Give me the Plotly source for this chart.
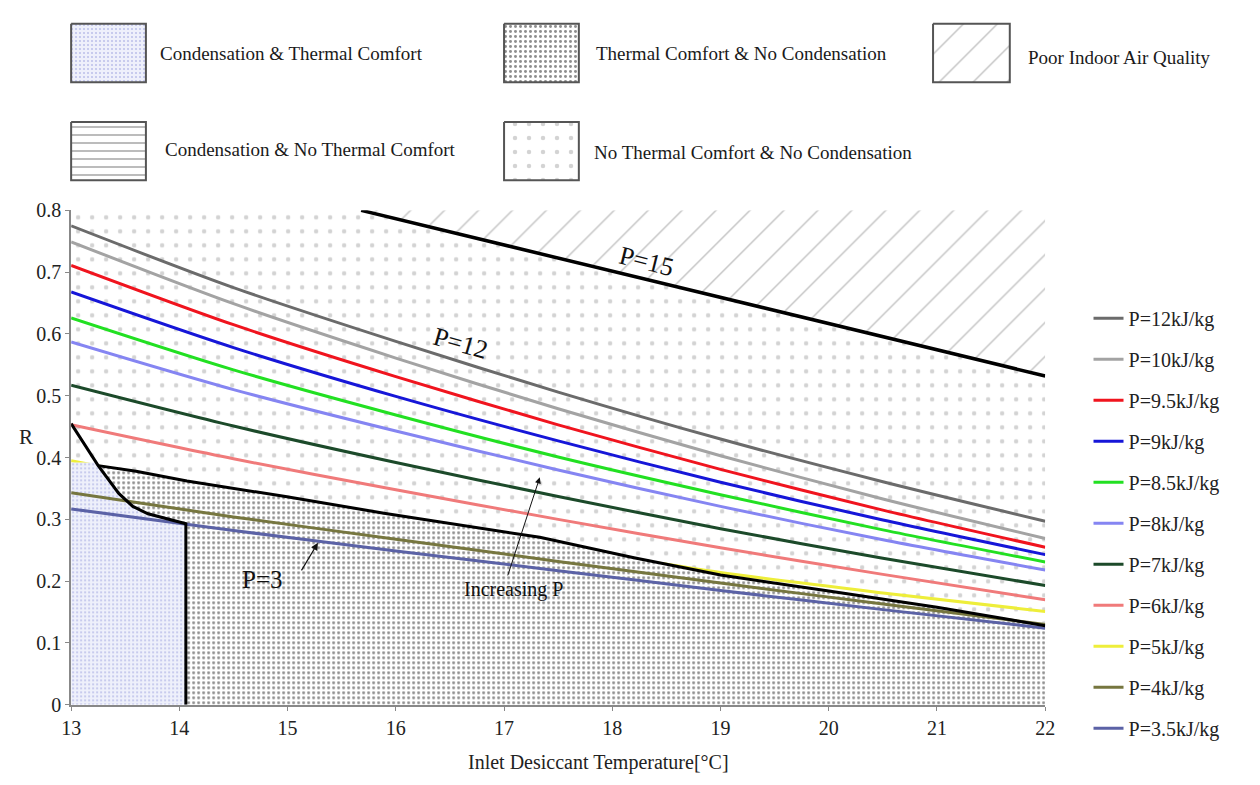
import numpy as np
import plotly.graph_objects as go

W, H = 1260, 785          # reference picture size
OFF = 8                    # default page body margin
FW, FH = W - 2 * OFF, H - 2 * OFF
FONT = "Liberation Serif"

# ---------------- data ----------------
temp = [13.0, 14.5, 16.0, 17.5, 19.0, 20.5, 22.0]

series_names = ["P=12kJ/kg", "P=10kJ/kg", "P=9.5kJ/kg", "P=9kJ/kg", "P=8.5kJ/kg",
                "P=8kJ/kg", "P=7kJ/kg", "P=6kJ/kg", "P=5kJ/kg", "P=4kJ/kg", "P=3.5kJ/kg"]
r_p12 = [0.775, 0.675, 0.588, 0.506, 0.430, 0.361, 0.297]
r_p10 = [0.749, 0.649, 0.561, 0.479, 0.403, 0.333, 0.269]
r_p95 = [0.711, 0.615, 0.531, 0.453, 0.381, 0.315, 0.255]
r_p9 = [0.668, 0.578, 0.499, 0.427, 0.360, 0.299, 0.243]
r_p85 = [0.626, 0.542, 0.469, 0.401, 0.340, 0.283, 0.231]
r_p8 = [0.587, 0.510, 0.443, 0.380, 0.321, 0.267, 0.218]
r_p7 = [0.517, 0.451, 0.392, 0.337, 0.285, 0.237, 0.193]
r_p6 = [0.453, 0.398, 0.348, 0.300, 0.254, 0.211, 0.170]
r_p5 = [0.395, 0.345, 0.300, 0.256, 0.214, 0.181, 0.151]
r_p4 = [0.343, 0.304, 0.268, 0.232, 0.197, 0.163, 0.130]
r_p35 = [0.317, 0.282, 0.249, 0.217, 0.185, 0.154, 0.124]
series_values = [r_p12, r_p10, r_p95, r_p9, r_p85, r_p8, r_p7, r_p6, r_p5, r_p4, r_p35]
series_colors = ["#6b6b6b", "#a3a3a3", "#f0141e", "#1616d8", "#22e022", "#8585f2",
                 "#1c4a2a", "#f07a7a", "#eeee3a", "#76763f", "#5b62a6"]

# P=15 limit line
p15_temp = [15.68, 22.0]
p15_r = [0.800, 0.532]

# condensation boundary (diagonal) and its vertical limit
cond_temp = [13.00, 13.25, 13.44, 13.57, 13.71, 14.06]
cond_r = [0.455, 0.387, 0.342, 0.321, 0.309, 0.293]
cond_limit_temp = 14.06
cond_comfort_top = 0.392

# thermal comfort boundary
comfort_temp = [13.25, 13.6, 14.07, 14.98, 15.89, 17.33, 18.2, 19.0, 20.0, 21.0, 21.6, 22.0]
comfort_r = [0.387, 0.378, 0.362, 0.337, 0.310, 0.271, 0.238, 0.210, 0.184, 0.158, 0.140, 0.128]

x_ticks = [13, 14, 15, 16, 17, 18, 19, 20, 21, 22]
y_ticks = [0, 0.1, 0.2, 0.3, 0.4, 0.5, 0.6, 0.7, 0.8]
y_ticklabels = ["0", "0.1", "0.2", "0.3", "0.4", "0.5", "0.6", "0.7", "0.8"]

region_names = ["Condensation & Thermal Comfort", "Thermal Comfort & No Condensation",
                "Poor Indoor Air Quality", "Condensation & No Thermal Comfort",
                "No Thermal Comfort & No Condensation"]

# ---------------- layout helpers (reference pixel coordinates) ----------------
X0, X1 = 62, 1052      # plot area pixels
Y0, Y1 = 205, 714

XMIN, XMAX = x_ticks[0], x_ticks[-1]
YMIN, YMAX = y_ticks[0], y_ticks[-1]

pat_iaq = dict(shape="/", fgcolor="#8a8a8a", bgcolor="white", size=24, solidity=0.06)
pat_mid = dict(shape=".", fgcolor="#a8a8a8", bgcolor="white", size=14, solidity=0.08)
pat_stip = dict(shape=".", fgcolor="#1e1e1e", bgcolor="white", size=5, solidity=0.28)
pat_blue = dict(shape=".", fgcolor="#8d93d8", bgcolor="#eef0fb", size=4, solidity=0.22)
pat_cnc = dict(shape="-", fgcolor="#7a7a7a", bgcolor="white", size=8, solidity=0.25)

fig = go.Figure()

# ---------------- regions ----------------
mid_x = [XMIN, p15_temp[0], p15_temp[1], XMAX, XMIN, XMIN]
mid_y = [YMAX, p15_r[0], p15_r[1], YMIN, YMIN, YMAX]
fig.add_trace(go.Scatter(x=mid_x, y=mid_y, fill="toself", mode="none",
                         fillpattern=pat_mid, showlegend=False, hoverinfo="skip"))
iaq_x = [p15_temp[0], p15_temp[1], XMAX, p15_temp[0]]
iaq_y = [p15_r[0], p15_r[1], YMAX, YMAX]
fig.add_trace(go.Scatter(x=iaq_x, y=iaq_y, fill="toself", mode="none",
                         fillpattern=pat_iaq, showlegend=False, hoverinfo="skip"))

idx5 = series_names.index("P=5kJ/kg")


def add_series(i):
    fig.add_trace(go.Scatter(
        x=temp, y=series_values[i], mode="lines", name=series_names[i],
        line=dict(color=series_colors[i], width=3, shape="spline", smoothing=0.8),
        legendgroup=series_names[i], legendrank=i + 1))


add_series(idx5)   # P=5 lies beneath the comfort region

cond_arr_t = np.array(cond_temp)
cond_arr_r = np.array(cond_r)
sel = cond_arr_t >= comfort_temp[0]
st_x = list(comfort_temp) + [XMAX, cond_limit_temp] + list(cond_arr_t[sel][::-1])
st_y = list(comfort_r) + [YMIN, YMIN] + list(cond_arr_r[sel][::-1])
fig.add_trace(go.Scatter(x=st_x, y=st_y, fill="toself", mode="none",
                         fillpattern=pat_stip, showlegend=False, hoverinfo="skip"))

t_top = float(np.interp(cond_comfort_top, cond_arr_r[::-1], cond_arr_t[::-1]))
sel2 = cond_arr_r < cond_comfort_top
bl_x = [XMIN, cond_limit_temp] + list(cond_arr_t[sel2][::-1]) + [t_top, XMIN]
bl_y = [YMIN, YMIN] + list(cond_arr_r[sel2][::-1]) + [cond_comfort_top, cond_comfort_top]
fig.add_trace(go.Scatter(x=bl_x, y=bl_y, fill="toself", mode="none",
                         fillpattern=pat_blue, showlegend=False, hoverinfo="skip"))

for i in range(len(series_names)):
    if i != idx5:
        add_series(i)

fig.add_trace(go.Scatter(x=comfort_temp, y=comfort_r, mode="lines",
                         line=dict(color="black", width=3), showlegend=False, hoverinfo="skip"))
fig.add_trace(go.Scatter(x=cond_temp + [cond_limit_temp], y=cond_r + [YMIN], mode="lines",
                         line=dict(color="black", width=3), showlegend=False, hoverinfo="skip"))
fig.add_trace(go.Scatter(x=p15_temp, y=p15_r, mode="lines",
                         line=dict(color="black", width=3.5), showlegend=False, hoverinfo="skip"))

# ---------------- region legend (pixel overlay axes) ----------------
boxes = [  # x0, y0, x1, y1, text x, text y, pattern
    (62, 13, 138, 73, 150, 44, pat_blue),
    (502, 13, 578, 73, 593, 44, pat_stip),
    (938, 13, 1016, 73, 1032, 48, pat_iaq),
    (62, 114, 138, 174, 155, 142, pat_cnc),
    (502, 114, 578, 174, 591, 145, pat_mid),
]
annotations = []
for (bx0, by0, bx1, by1, tx, ty, pat), name in zip(boxes, region_names):
    fig.add_trace(go.Scatter(x=[bx0, bx1, bx1, bx0, bx0], y=[by0, by0, by1, by1, by0],
                             xaxis="x2", yaxis="y2", mode="lines", fill="toself",
                             fillpattern=pat, line=dict(color="#555555", width=2),
                             showlegend=False, hoverinfo="skip"))
    annotations.append(dict(x=tx, y=ty, xref="x2", yref="y2", text=name, showarrow=False,
                            xanchor="left", yanchor="middle",
                            font=dict(family=FONT, size=19, color="#1a1a1a")))

# ---------------- chart annotations ----------------
annotations += [
    dict(x=18.32, y=0.718, xref="x", yref="y", text="P=15", showarrow=False, textangle=14,
         font=dict(family=FONT, size=26, color="#111")),
    dict(x=16.6, y=0.585, xref="x", yref="y", text="P=12", showarrow=False, textangle=16,
         font=dict(family=FONT, size=26, color="#111")),
    dict(x=14.77, y=0.203, xref="x", yref="y", text="P=3", showarrow=False,
         font=dict(family=FONT, size=25, color="#111")),
    dict(x=15.28, y=0.262, ax=15.12, ay=0.215, xref="x", yref="y", axref="x", ayref="y",
         text="", showarrow=True, arrowhead=2, arrowsize=1.2, arrowwidth=1.2, arrowcolor="#111"),
    dict(x=17.09, y=0.187, xref="x", yref="y", text="Increasing P", showarrow=False,
         font=dict(family=FONT, size=20, color="#111")),
    dict(x=17.33, y=0.368, ax=17.03, ay=0.207, xref="x", yref="y", axref="x", ayref="y",
         text="", showarrow=True, arrowhead=2, arrowsize=1.2, arrowwidth=1, arrowcolor="#111"),
    dict(x=16, y=438, xref="x2", yref="y2", text="R", showarrow=False,
         font=dict(family=FONT, size=21, color="#222")),
    dict(x=598, y=773, xref="x2", yref="y2", text="Inlet Desiccant Temperature[°C]",
         showarrow=False, font=dict(family=FONT, size=20, color="#222")),
]

fig.update_layout(
    width=FW, height=FH, margin=dict(l=0, r=0, t=0, b=0),
    paper_bgcolor="white", plot_bgcolor="rgba(0,0,0,0)",
    font=dict(family=FONT, color="#222"),
    xaxis=dict(domain=[(X0 - OFF) / FW, (X1 - OFF) / FW], range=[XMIN, XMAX], tickvals=x_ticks,
               showgrid=False, zeroline=False, showline=True, linecolor="#888", linewidth=2,
               ticks="outside", ticklen=4, tickcolor="#888",
               tickfont=dict(family=FONT, size=20, color="#222"), anchor="y"),
    yaxis=dict(domain=[1 - (Y1 - OFF) / FH, 1 - (Y0 - OFF) / FH], range=[YMIN, YMAX],
               tickvals=y_ticks, ticktext=y_ticklabels, showgrid=False, zeroline=False,
               showline=True, linecolor="#888", linewidth=2, ticks="outside", ticklen=4,
               tickcolor="#888", tickfont=dict(family=FONT, size=20, color="#222"), anchor="x"),
    xaxis2=dict(domain=[0, 1], range=[OFF, OFF + FW], visible=False, anchor="y2", fixedrange=True),
    yaxis2=dict(domain=[0, 1], range=[OFF + FH, OFF], visible=False, anchor="x2", fixedrange=True),
    legend=dict(x=(1096 - OFF) / FW, y=1 - (296 - OFF) / FH, xanchor="left", yanchor="top",
                font=dict(family=FONT, size=20, color="#222"), itemwidth=30,
                tracegroupgap=12, bgcolor="rgba(0,0,0,0)", traceorder="grouped"),
    annotations=annotations,
    showlegend=True,
)

fig.write_html("out.html", config={"displayModeBar": False})
